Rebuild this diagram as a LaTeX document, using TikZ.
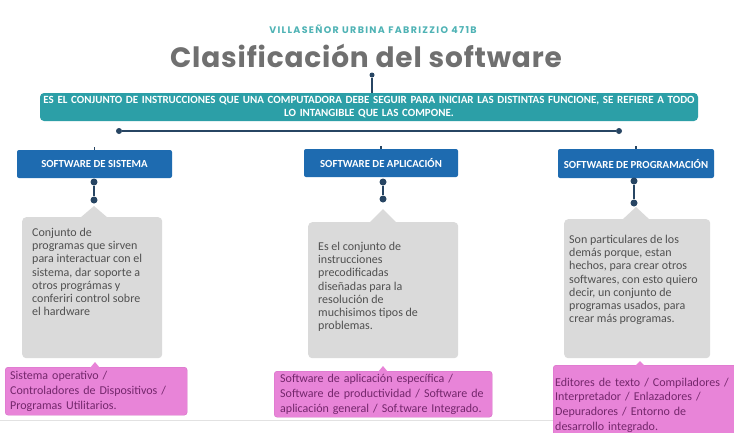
\documentclass[tikz,border=0pt]{standalone}
\usepackage{fontspec}
\setmainfont{Carlito}
\newfontfamily\titlefont[LetterSpace=3]{Poppins}
\newfontfamily\labelfont[LetterSpace=14]{Poppins}
\usetikzlibrary{positioning}

\definecolor{authorteal}{HTML}{4FB3B5}
\definecolor{titlegray}{HTML}{707070}
\definecolor{bannerteal}{HTML}{2C9FA7}
\definecolor{navy}{HTML}{274563}
\definecolor{headblue}{HTML}{1E6BB0}
\definecolor{boxgray}{HTML}{DADADA}
\definecolor{bodygray}{HTML}{505050}
\definecolor{pinkfill}{HTML}{E884D8}
\definecolor{pinkedge}{HTML}{D56FC6}
\definecolor{pinktext}{HTML}{74276C}
\definecolor{rulegray}{HTML}{E2E2E2}

\begin{document}
\begin{tikzpicture}[x=1pt, y=-1pt,
    dot/.style={circle, fill=navy, inner sep=0pt, minimum size=7pt},
    link/.style={navy, line width=2pt},
    head/.style={fill=headblue, text=white, rounded corners=2pt, inner sep=0pt,
        minimum width=155pt, minimum height=28pt,
        font=\bfseries\fontsize{10.8}{12}\selectfont},
    graybox/.style={fill=boxgray, rounded corners=4pt, anchor=north west, inner sep=0pt},
    bodytext/.style={text=bodygray, align=left, anchor=north west, inner sep=0pt,
        font=\fontsize{12}{13.2}\selectfont},
    pinkbox/.style={fill=pinkfill, draw=pinkedge, rounded corners=3pt, text=pinktext,
        align=left, anchor=north west, inner ysep=3pt,
        font=\fontsize{12}{14.8}\selectfont}]

    \clip (0,0) rectangle (734,432);
    \fill[white] (0,0) rectangle (734,432);

    % 1. Heading
    \node[anchor=base, text=authorteal, font=\labelfont\bfseries\fontsize{9.5}{10}\selectfont]
        (author) at (373,33) {VILLASEÑOR URBINA FABRIZZIO 471B};
    \node[anchor=base, text=titlegray, font=\titlefont\bfseries\fontsize{28}{30}\selectfont]
        (title) at (366,67) {Clasificación del software};

    % 2. Definition banner and its links
    \node[fill=bannerteal, text=white, rounded corners=4pt, inner sep=0pt,
        minimum width=658pt, minimum height=28pt, text width=656pt, align=center,
        font=\bfseries\fontsize{11}{12.6}\selectfont]
        (banner) at (369,107) {ES EL CONJUNTO DE INSTRUCCIONES QUE UNA COMPUTADORA DEBE SEGUIR PARA INICIAR LAS DISTINTAS FUNCIONE, SE REFIERE A TODO\\
        LO INTANGIBLE QUE LAS COMPONE.};

    \node[dot, minimum size=5pt] (tdot) at (372,75) {};
    \draw[link, line width=1.8pt] (tdot) -- (tdot |- banner.north);

    \node[dot, minimum size=6pt] (lbar) at (119,131) {};
    \node[dot, minimum size=6pt] (rbar) at (619,131) {};
    \draw[link] (lbar) -- (rbar);

    % 3. The three kinds of software
    \node[head] (sistema) at (94.5,164) {SOFTWARE DE SISTEMA};
    \node[head, minimum width=154pt] (aplicacion) at (381,163) {SOFTWARE DE APLICACIÓN};
    \node[head, minimum width=156pt, minimum height=29pt] (programacion) at (636,163.5) {SOFTWARE DE PROGRAMACIÓN};

    \foreach \h in {sistema, aplicacion, programacion} {
        \draw[navy, line width=1.2pt] (\h.north) -- ([yshift=3pt]\h.north);
    }

    % 4. Gray description boxes
    \node[graybox, minimum width=140pt, minimum height=141pt] (g1) at (22,217) {};
    \node[graybox, minimum width=150pt, minimum height=136pt] (g2) at (308,222) {};
    \node[graybox, minimum width=146pt, minimum height=139pt] (g3) at (564,219) {};

    \coordinate (p1) at (94,206);
    \coordinate (p2) at (383,209);
    \coordinate (p3) at (636,207);
    \foreach \i in {1,2,3} {
        \path (p\i |- g\i.north) coordinate (b\i);
        \fill[boxgray] (p\i) -- ([xshift=-14pt, yshift=-1pt]b\i) -- ([xshift=14pt, yshift=-1pt]b\i) -- cycle;
    }

    % 5. Links from headers to boxes
    \node[dot] (s1) at (94,182) {};
    \node[dot] (s2) at (94,200) {};
    \node[dot] (a1) at (383,182) {};
    \node[dot] (a2) at (383,199) {};
    \node[dot] (r1) at (634,181) {};
    \node[dot] (r2) at (634,203) {};
    \foreach \u/\v in {s1/s2, a1/a2, r1/r2} {
        \draw[link] (\u) -- (\v);
    }

    \node[bodytext] (t1) at (32,228) {Conjunto de\\
        programas que sirven\\
        para interactuar con el\\
        sistema, dar soporte a\\
        otros prográmas y\\
        conferiri control sobre\\
        el hardware};
    \node[bodytext] (t2) at (318,242) {Es el conjunto de\\
        instrucciones\\
        precodificadas\\
        diseñadas para la\\
        resolución de\\
        muchisimos tipos de\\
        problemas.};
    \node[bodytext] (t3) at (569,235) {Son particulares de los\\
        demás porque, estan\\
        hechos, para crear otros\\
        softwares, con esto quiero\\
        decir, un conjunto de\\
        programas usados, para\\
        crear más programas.};

    % 6. Bottom rule and pink example boxes
    \draw[rulegray, line width=1pt] (0,420) -- (734,420);

    \node[pinkbox, text width=172pt, inner xsep=5pt, minimum height=48pt] (k1) at (5,367)
        {Sistema operativo /\\
        Controladores de Dispositivos /\\
        Programas Utilitarios.};
    \node[pinkbox, text width=206pt, inner xsep=6pt, minimum height=46pt] (k2) at (274,371)
        {Software de aplicación específica /\\
        Software de productividad / Software de\\
        aplicación general / Sof.tware Integrado.};
    \node[pinkbox, text width=200pt, inner xsep=2pt, minimum height=80pt] (k3) at (553,365)
        {Editores de texto / Compiladores /\\
        Interpretador / Enlazadores /\\
        Depuradores / Entorno de\\
        desarrollo integrado.};

    \coordinate (q1) at (95,362);
    \coordinate (q2) at (383,366);
    \coordinate (q3) at (640,361);
    \foreach \i in {1,2,3} {
        \path (q\i |- k\i.north) coordinate (c\i);
        \fill[pinkfill] (q\i) -- ([xshift=-5pt, yshift=-1pt]c\i) -- ([xshift=5pt, yshift=-1pt]c\i) -- cycle;
    }

\end{tikzpicture}
\end{document}
